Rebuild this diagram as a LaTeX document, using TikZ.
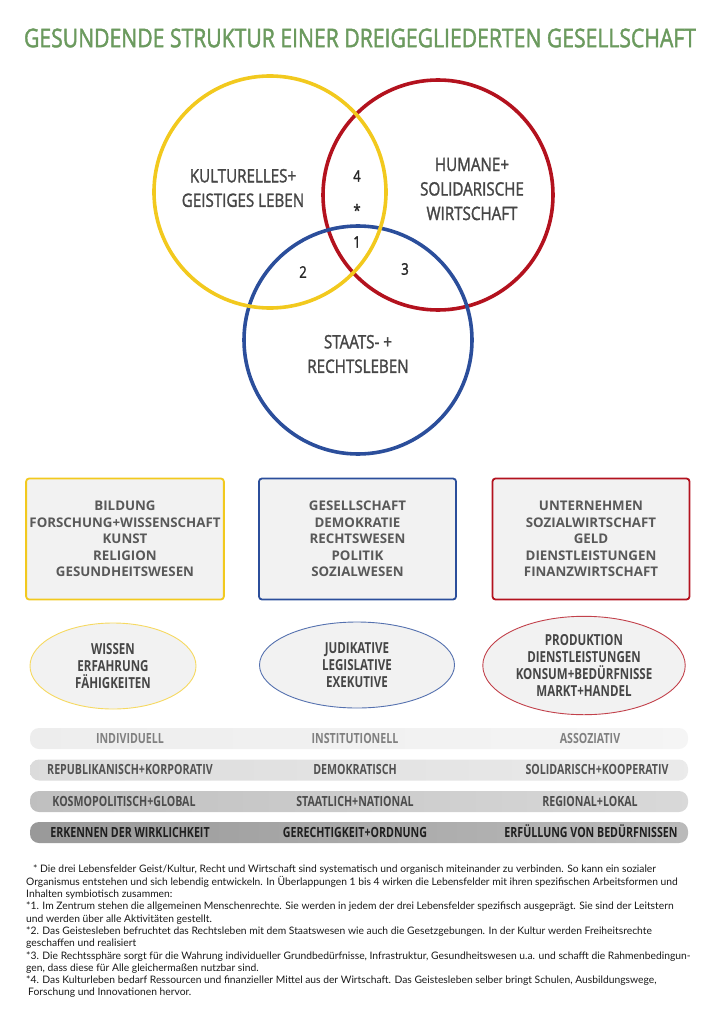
\documentclass[tikz,border=0pt]{standalone}
\usepackage{fontspec}
\setmainfont{Open Sans}
\newfontfamily\condfont{Open Sans}[FakeStretch=0.82,FakeBold=1.6]
\newfontfamily\condbold{Open Sans Bold}[FakeStretch=0.76]
\newfontfamily\notefont{Lato}
\usetikzlibrary{positioning,shapes.geometric}
\definecolor{titlegreen}{HTML}{6B9A5E}
\definecolor{kultyellow}{HTML}{F2C91E}
\definecolor{wirtred}{HTML}{B3121E}
\definecolor{rechtblue}{HTML}{2B4E9B}
\definecolor{labelgray}{HTML}{464646}
\definecolor{boxfill}{HTML}{F2F2F2}

\begin{document}
\begin{tikzpicture}[x=1pt,y=-1pt,
    field/.style={draw,line width=3.6pt},
    fieldlabel/.style={align=center,text=labelgray,font=\condfont\fontsize{18.5}{24.5}\selectfont},
    overlap/.style={text=black!85,font=\condfont\fontsize{16}{18}\selectfont},
    areabox/.style={draw,line width=1.8pt,fill=boxfill,rounded corners=3pt,minimum width=197pt,minimum height=121pt,align=center,text=black!65,font=\bfseries\fontsize{13.3}{16.5}\selectfont},
    formell/.style={ellipse,draw,line width=0.9pt,fill=boxfill,minimum height=86pt,align=center,text=labelgray,font=\condbold\fontsize{15.2}{17.3}\selectfont},
    band/.style={rounded corners=9pt,minimum width=658pt,minimum height=21pt},
    bandtext/.style={text height=10pt,text depth=1pt,font=\condbold\fontsize{14}{14}\selectfont}]
  \useasboundingbox (0,0) rectangle (720,1024);

  \node (title) at (360,38) {\condfont\fontsize{25.8}{28}\selectfont\color{titlegreen}GESUNDENDE STRUKTUR EINER DREIGEGLIEDERTEN GESELLSCHAFT};

  % drei Lebensfelder
  \draw[field,wirtred] (438,195) circle (115);
  \draw[field,rechtblue] (358,340) circle (114);
  \draw[field,kultyellow] (270,192) circle (116);

  \node[fieldlabel] (kultur) at (243,188) {KULTURELLES+\\GEISTIGES LEBEN};
  \node[fieldlabel] (wirtschaft) at (472,189) {HUMANE+\\SOLIDARISCHE\\WIRTSCHAFT};
  \node[fieldlabel] (recht) at (358,354) {STAATS- +\\RECHTSLEBEN};

  \node[overlap] (ov4) at (357,176) {4};
  \node[overlap] (ovstar) at (357,210) {*};
  \node[overlap] (ov1) at (357,242) {1};
  \node[overlap] (ov2) at (303,272) {2};
  \node[overlap] (ov3) at (405,269) {3};

  % Bereiche
  \node[areabox,draw=kultyellow] (bildung) at (125,539) {BILDUNG\\FORSCHUNG+WISSENSCHAFT\\KUNST\\RELIGION\\GESUNDHEITSWESEN};
  \node[areabox,draw=rechtblue] (gesellschaft) at (357.5,539) {GESELLSCHAFT\\DEMOKRATIE\\RECHTSWESEN\\POLITIK\\SOZIALWESEN};
  \node[areabox,draw=wirtred] (unternehmen) at (591,539) {UNTERNEHMEN\\SOZIALWIRTSCHAFT\\GELD\\DIENSTLEISTUNGEN\\FINANZWIRTSCHAFT};

  \node[formell,draw=kultyellow!70,minimum width=166pt] (wissen) at (113,666) {WISSEN\\ERFAHRUNG\\FÄHIGKEITEN};
  \node[formell,draw=rechtblue!80,minimum width=195pt] (judikative) at (357,665) {JUDIKATIVE\\LEGISLATIVE\\EXEKUTIVE};
  \node[formell,draw=wirtred!80,minimum width=194pt] (produktion) at (584,665.5) {PRODUKTION\\DIENSTLEISTUNGEN\\KONSUM+BEDÜRFNISSE\\MARKT+HANDEL};

  % Stufen
  \node[band,left color=black!7,right color=black!4] (stufe1) at (359,738.5) {};
  \node[band,left color=black!14,right color=black!8] (stufe2) at (359,770) {};
  \node[band,left color=black!25,right color=black!15] (stufe3) at (359,801.5) {};
  \node[band,left color=black!40,right color=black!27] (stufe4) at (359,832.5) {};

  \node[bandtext,text=black!50] (individuell) at (130,739) {INDIVIDUELL};
  \node[bandtext,text=black!50] (institutionell) at (355,739) {INSTITUTIONELL};
  \node[bandtext,text=black!50] (assoziativ) at (590,739) {ASSOZIATIV};
  \node[bandtext,text=black!68] (republikanisch) at (130,770) {REPUBLIKANISCH+KORPORATIV};
  \node[bandtext,text=black!68] (demokratisch) at (355,770) {DEMOKRATISCH};
  \node[bandtext,text=black!68] (solidarisch) at (597,770) {SOLIDARISCH+KOOPERATIV};
  \node[bandtext,text=black!70] (kosmopolitisch) at (124,801.5) {KOSMOPOLITISCH+GLOBAL};
  \node[bandtext,text=black!70] (staatlich) at (355,801.5) {STAATLICH+NATIONAL};
  \node[bandtext,text=black!70] (regional) at (590,801.5) {REGIONAL+LOKAL};
  \node[bandtext,text=black!88] (erkennen) at (130,832.5) {ERKENNEN DER WIRKLICHKEIT};
  \node[bandtext,text=black!88] (gerechtigkeit) at (355,832.5) {GERECHTIGKEIT+ORDNUNG};
  \node[bandtext,text=black!88] (erfuellung) at (591,832.5) {ERFÜLLUNG VON BEDÜRFNISSEN};

  % Anmerkungen
  \node[anchor=north west,align=left,inner sep=0pt,text=black!90,font=\notefont\fontsize{10.3}{12.3}\selectfont] (notes) at (26,865)
    {\hspace{7pt}* Die drei Lebensfelder Geist/Kultur, Recht und Wirtschaft sind systematisch und organisch miteinander zu verbinden. So kann ein sozialer\\
     Organismus entstehen und sich lebendig entwickeln. In Überlappungen 1 bis 4 wirken die Lebensfelder mit ihren spezifischen Arbeitsformen und\\
     Inhalten symbiotisch zusammen:\\
     *1. Im Zentrum stehen die allgemeinen Menschenrechte. Sie werden in jedem der drei Lebensfelder spezifisch ausgeprägt. Sie sind der Leitstern\\
     und werden über alle Aktivitäten gestellt.\\
     *2. Das Geistesleben befruchtet das Rechtsleben mit dem Staatswesen wie auch die Gesetzgebungen. In der Kultur werden Freiheitsrechte\\
     geschaffen und realisiert\\
     *3. Die Rechtssphäre sorgt für die Wahrung individueller Grundbedürfnisse, Infrastruktur, Gesundheitswesen u.a. und schafft die Rahmenbedingun-\\
     gen, dass diese für Alle gleichermaßen nutzbar sind.\\
     *4. Das Kulturleben bedarf Ressourcen und finanzieller Mittel aus der Wirtschaft. Das Geistesleben selber bringt Schulen, Ausbildungswege,\\
     \hspace{2pt}Forschung und Innovationen hervor.};
\end{tikzpicture}
\end{document}
